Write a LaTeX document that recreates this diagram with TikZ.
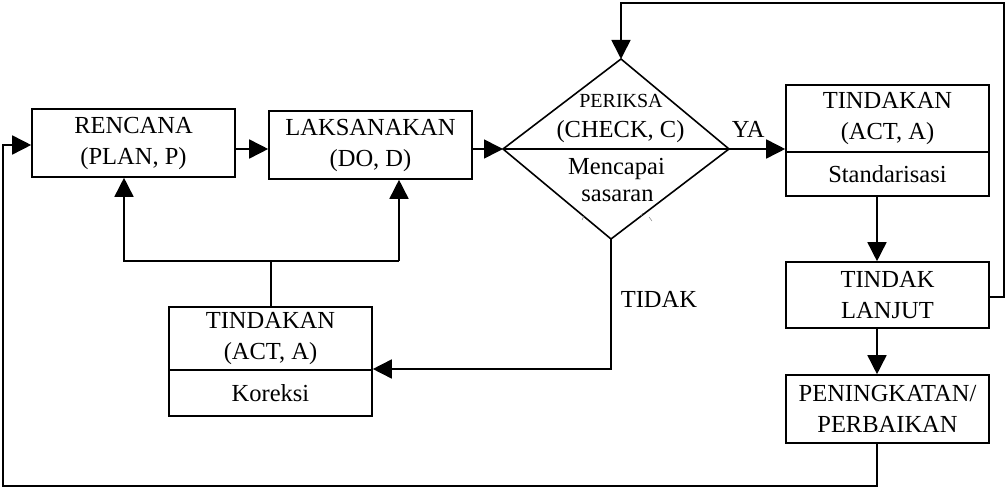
\documentclass[tikz,border=0pt]{standalone}
\usepackage{fontspec}
\setmainfont{Liberation Serif}
\usetikzlibrary{arrows.meta}
\begin{document}
\begin{tikzpicture}[x=1pt,y=-1pt,line width=1.6pt,
  box/.style={draw,rectangle,inner sep=0pt,align=center,minimum width=203pt,font=\fontsize{24.5}{31}\selectfont},
  arr/.style={-{Triangle[length=19pt,width=19pt]}},
  lbl/.style={inner sep=0pt,anchor=base,font=\fontsize{24.5}{30}\selectfont},
  small/.style={lbl,font=\fontsize{20}{24}\selectfont},
  tick/.style={line width=0.5pt,gray}]
\useasboundingbox (0,0) rectangle (1007,489);
% boxes
\node[box,minimum height=68pt] (ren) at (133.5,143) {RENCANA\\(PLAN, P)};
\node[box,minimum height=68pt] (laks) at (370.5,145) {LAKSANAKAN\\(DO, D)};
\node[box,minimum height=67pt] (act) at (887.5,118.5) {TINDAKAN\\(ACT, A)};
\node[box,minimum height=44pt] (std) at (887.5,174) {Standarisasi};
\node[box,minimum height=66pt] (tl) at (887.5,295) {TINDAK\\LANJUT};
\node[box,minimum height=68pt] (pen) at (887.5,409) {PENINGKATAN/\\PERBAIKAN};
\node[box,minimum height=63pt] (kact) at (270.5,338.5) {TINDAKAN\\(ACT, A)};
\node[box,minimum height=46pt] (kor) at (270.5,393) {Koreksi};
% diamond
\coordinate (dT) at (621,59);
\coordinate (dL) at (503,149);
\coordinate (dR) at (729,149);
\coordinate (dB) at (611,239);
\draw (dT) -- (dR) -- (dB) -- (dL) -- cycle;
\draw (dL) -- (dR);
\node[small] (per) at (621,108) {PERIKSA};
\node[lbl] (chk) at (620.5,138) {(CHECK, C)};
\node[lbl] (men) at (616.5,175) {Mencapai};
\node[lbl] (sas) at (617.5,202) {sasaran};
\draw[tick] (582,220) -- (584,216);
\draw[tick] (641,216) -- (643,213);
\draw[tick] (649,217) -- (652,221);
% labels
\node[lbl,anchor=base west] (ya) at (731,138) {YA};
\node[lbl,anchor=base west] (tidak) at (620,307) {TIDAK};
% helper coordinates
\coordinate (y145) at (0,145);
\coordinate (y149) at (0,149);
\coordinate (vx) at (877,0);
\coordinate (j) at (271,261);
\coordinate (jl) at (124,261);
\coordinate (jr) at (399,261);
\coordinate (tdb) at (611,369);
\coordinate (fr) at (1004,297);
\coordinate (frt) at (1004,3);
\coordinate (ft) at (621,3);
\coordinate (bb) at (877,486);
\coordinate (bl) at (3,486);
\coordinate (blt) at (3,145);
% connectors
\draw[arr] (ren.east |- y149) -- (laks.west |- y149);
\draw[arr] (laks.east |- y149) -- (dL);
\draw[arr] (dR) -- (act.west |- dR);
\draw[arr] (std.south -| vx) -- (tl.north -| vx);
\draw[arr] (tl.south -| vx) -- (pen.north -| vx);
\draw[arr] (tl.east |- fr) -- (fr) -- (frt) -- (ft) -- (dT);
\draw[arr] (pen.south -| vx) -- (bb) -- (bl) -- (blt) -- (ren.west |- y145);
\draw[arr] (dB) -- (tdb) -- (kact.east |- tdb);
\draw (kact.north -| j) -- (j);
\draw[arr] (jr) -- (jl) -- (jl |- ren.south);
\draw[arr] (jr) -- (jr |- laks.south);
\end{tikzpicture}
\end{document}
